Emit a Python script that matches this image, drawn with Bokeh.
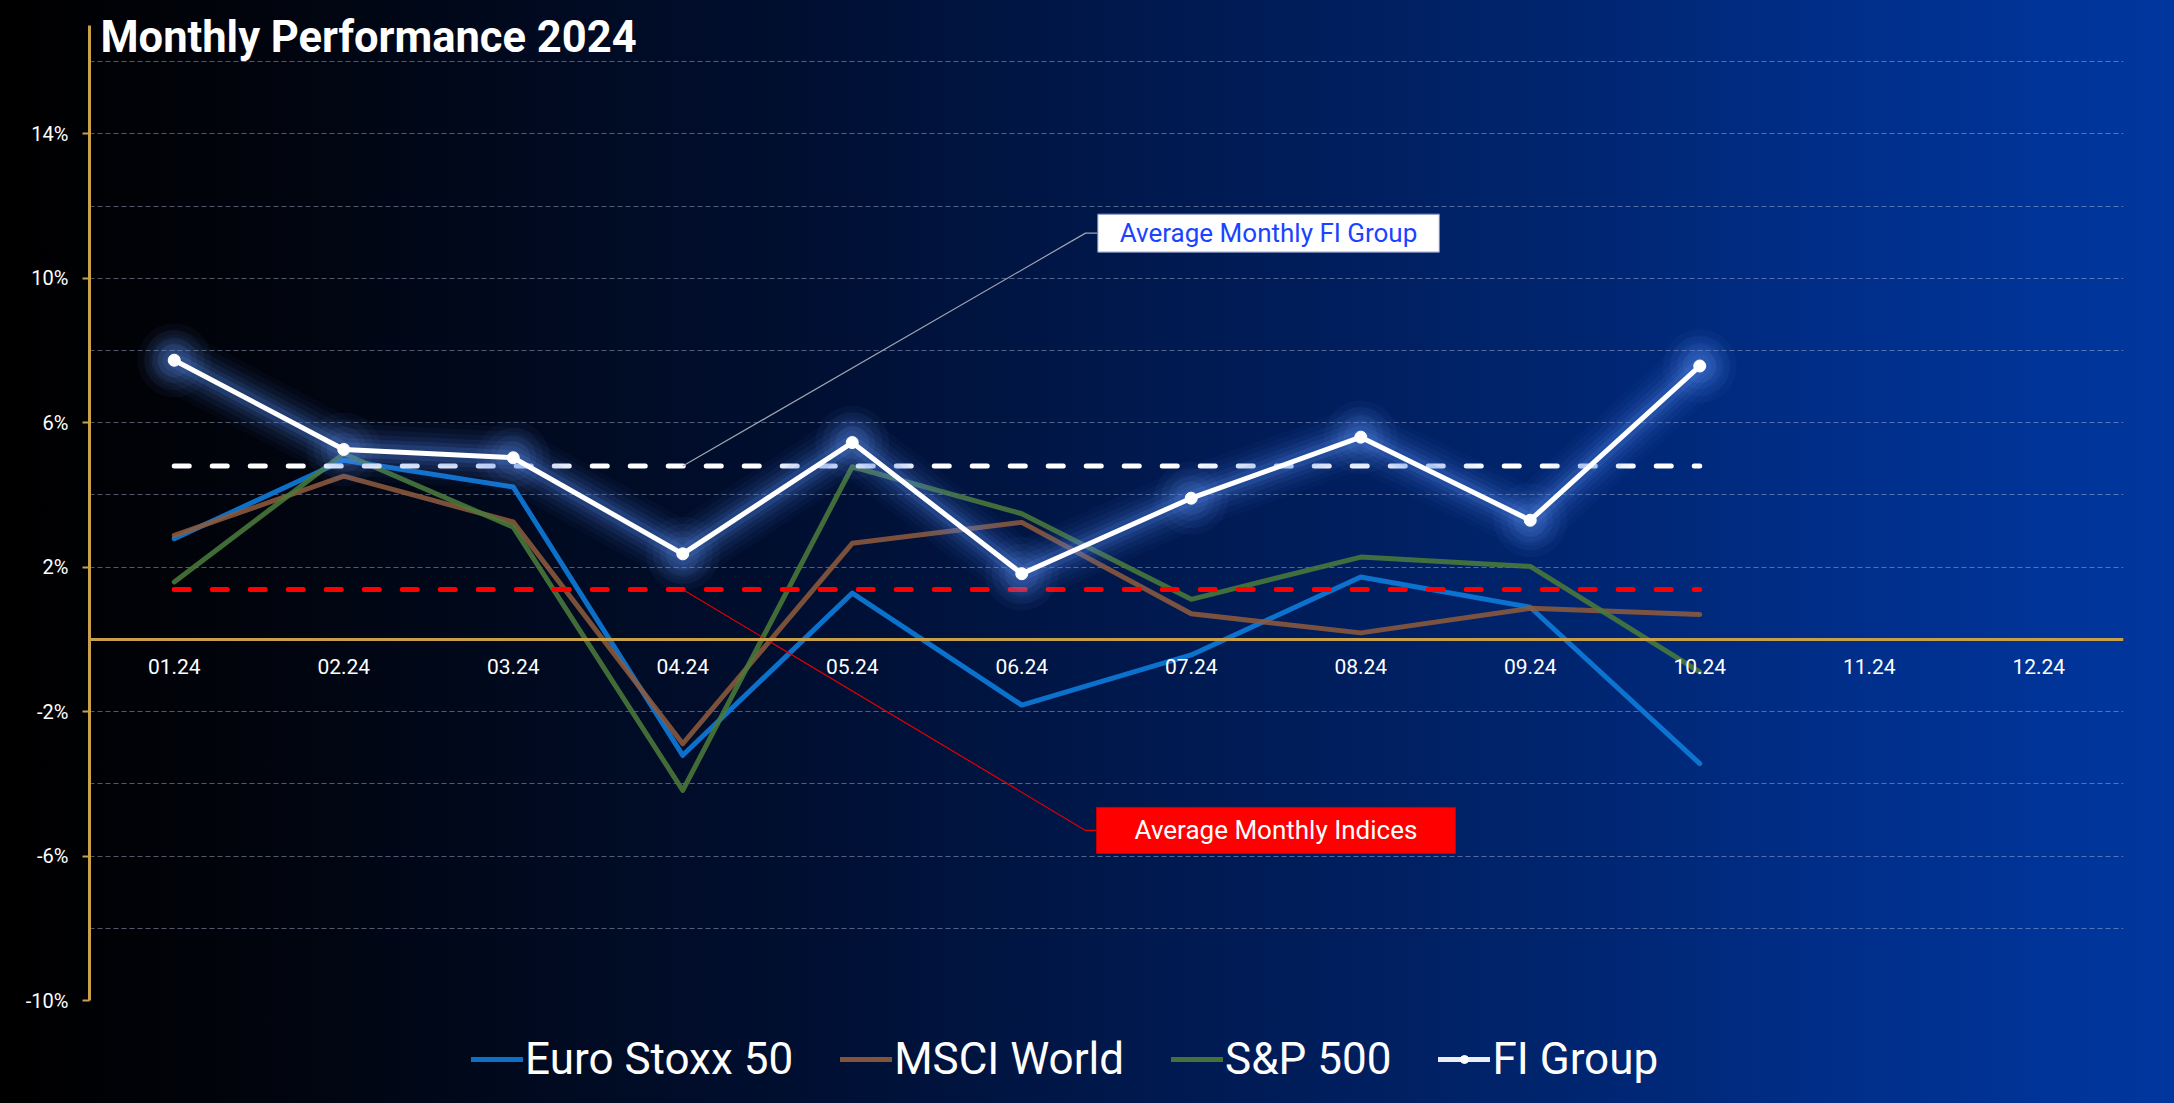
from bokeh.plotting import figure
from bokeh.layouts import column
from bokeh.models import (FactorRange, Range1d, FixedTicker, PrintfTickFormatter,
                          Legend, LegendItem, Label)
from bokeh.embed import file_html
from bokeh.resources import INLINE

# ---------------- data ----------------
months = ["01.24", "02.24", "03.24", "04.24", "05.24", "06.24",
          "07.24", "08.24", "09.24", "10.24", "11.24", "12.24"]
data_months = months[:10]
euro_stoxx = [2.79, 4.96, 4.22, -3.21, 1.28, -1.82, -0.43, 1.73, 0.89, -3.44]
msci_world = [2.88, 4.52, 3.25, -2.89, 2.66, 3.24, 0.71, 0.18, 0.86, 0.69]
sp500 = [1.59, 5.14, 3.11, -4.18, 4.78, 3.48, 1.11, 2.28, 2.02, -0.90]
fi_group = [7.73, 5.26, 5.03, 2.37, 5.45, 1.82, 3.91, 5.60, 3.30, 7.57]
avg_fi = 4.80
avg_indices = 1.38
grid_ticks = [-10, -8, -6, -4, -2, 2, 4, 6, 8, 10, 12, 14, 16]
label_ticks = [-10, -6, -2, 2, 6, 10, 14]
series_names = ["Euro Stoxx 50", "MSCI World", "S&P 500", "FI Group"]
series_values = [euro_stoxx, msci_world, sp500, fi_group]
series_colors = ["#0d7ad8", "#8c5a3c", "#4a7a3a", "white"]

FONT = "Roboto"
GOLD = "#c9a04a"
GRADIENT = ("linear-gradient(90deg, #000000 0%, #01040d 12%, #000e2e 35%, "
            "#001a52 55%, #00256f 72%, #002f8c 86%, #00379f 100%)")

Y_MIN, Y_AXIS_TOP = -10, 17
FRAME_H = 1000
PX_PER_UNIT = 975 / (Y_AXIS_TOP - Y_MIN)
y_top = Y_MIN + FRAME_H / PX_PER_UNIT

p = figure(frame_width=2034, frame_height=FRAME_H,
           x_range=FactorRange(factors=months), y_range=Range1d(Y_MIN, y_top),
           output_backend="svg", toolbar_location=None,
           min_border_left=89, min_border_right=51,
           min_border_top=0, min_border_bottom=15)
p.background_fill_color = None
p.border_fill_color = None
p.outline_line_color = None
p.styles = {"background": GRADIENT}

# axes
p.xaxis.fixed_location = 0
p.xaxis.axis_line_color = GOLD
p.xaxis.axis_line_width = 3
p.xaxis.major_tick_line_color = None
p.xaxis.minor_tick_line_color = None
p.xaxis.major_label_text_color = "white"
p.xaxis.major_label_text_font = FONT
p.xaxis.major_label_text_font_size = "21px"
p.xaxis.major_label_standoff = 14

p.yaxis.bounds = (Y_MIN, Y_AXIS_TOP)
p.yaxis.ticker = FixedTicker(ticks=label_ticks)
p.yaxis.formatter = PrintfTickFormatter(format="%d%%")
p.yaxis.axis_line_color = GOLD
p.yaxis.axis_line_width = 3
p.yaxis.major_tick_line_color = GOLD
p.yaxis.major_tick_line_width = 2
p.yaxis.major_tick_out = 7
p.yaxis.major_tick_in = 0
p.yaxis.minor_tick_line_color = None
p.yaxis.major_label_text_color = "white"
p.yaxis.major_label_text_font = FONT
p.yaxis.major_label_text_font_size = "20px"
p.yaxis.major_label_standoff = 14

p.xgrid.grid_line_color = None
p.ygrid.ticker = FixedTicker(ticks=grid_ticks)
p.ygrid.grid_line_color = "#b8c4e0"
p.ygrid.grid_line_alpha = 0.45
p.ygrid.grid_line_dash = "5 3"
p.ygrid.grid_line_width = 1

# index lines
p.line(data_months, euro_stoxx, line_width=5, color=series_colors[0], alpha=0.92,
       line_join="round", line_cap="round")
p.line(data_months, msci_world, line_width=5, color=series_colors[1], alpha=0.88,
       line_join="round", line_cap="round")
p.line(data_months, sp500, line_width=5, color=series_colors[2], alpha=0.88,
       line_join="round", line_cap="round")

# average lines
p.line([data_months[0], data_months[-1]], [avg_indices, avg_indices], line_width=5,
       color="#ff0000", line_dash="15 23", line_cap="round")
p.line([data_months[0], data_months[-1]], [avg_fi, avg_fi], line_width=5,
       color="white", line_dash="15 23", line_cap="round")

# glow for FI Group
for w, a in [(62, 0.04), (52, 0.05), (42, 0.07), (32, 0.09), (23, 0.12), (15, 0.18)]:
    p.line(data_months, fi_group, line_width=w, color="#4f86e8", alpha=a,
           line_join="round", line_cap="round")
for s, a in [(74, 0.045), (60, 0.055), (46, 0.07), (34, 0.09)]:
    p.scatter(data_months, fi_group, size=s, color="#6a9cff", alpha=a, line_color=None)

p.line(data_months, fi_group, line_width=5, color="white",
       line_join="round", line_cap="round")
p.scatter(data_months, fi_group, size=12, color="white", line_color="white")

# leader lines and labels
i4 = months.index("04.24") + 0.5
bend_x = 5.876
box_x = 5.945
fi_label_y = 11.25
idx_label_y = -5.29
p.line([i4, bend_x, box_x], [avg_fi, fi_label_y, fi_label_y], line_width=1.2, color="#a0a4b0")
p.line([i4, bend_x, box_x], [avg_indices, idx_label_y, idx_label_y], line_width=1.2, color="#e00000")

p.add_layout(Label(x=6.956, y=fi_label_y, text="Average Monthly FI Group",
                   text_align="center", text_baseline="middle",
                   text_font=FONT, text_font_size="26px", text_color="#1a44ff",
                   background_fill_color="white", border_line_color="#7f8fc0",
                   border_line_width=1, padding=(22, 4)))
p.add_layout(Label(x=7.0, y=idx_label_y, text="Average Monthly Indices",
                   text_align="center", text_baseline="middle",
                   text_font=FONT, text_font_size="26px", text_color="white",
                   background_fill_color="#ff0000", border_line_color="#d00000",
                   border_line_width=1, padding=(38, 8)))

# title
p.add_layout(Label(x=0.065, y=16.68, text="Monthly Performance 2024",
                   text_align="left", text_baseline="alphabetic",
                   text_font=FONT, text_font_style="bold", text_font_size="43.5px",
                   text_color="white"))

# ---------------- legend strip ----------------
# the series are drawn here only to give the legend its glyphs; the y range
# keeps them out of view
lf = figure(width=2174, height=88, x_range=FactorRange(factors=months),
            y_range=Range1d(1000, 1001),
            output_backend="svg", toolbar_location=None, min_border=0)
lf.background_fill_color = None
lf.border_fill_color = None
lf.outline_line_color = None
lf.axis.visible = False
lf.grid.visible = False
lf.styles = {"background": GRADIENT}

items = []
for name, vals, col in zip(series_names, series_values, series_colors):
    rl = lf.line(data_months, vals, line_width=5, color=col, alpha=0.92, line_cap="round")
    rens = [rl]
    if name == "FI Group":
        rens.append(lf.scatter(data_months, vals, size=12, color=col, line_color=col))
    items.append(LegendItem(label=name, renderers=rens))

legend = Legend(items=items, orientation="horizontal", location=(382, 18))
legend.background_fill_color = None
legend.background_fill_alpha = 0
legend.border_line_color = None
legend.label_text_color = "white"
legend.label_text_font = FONT
legend.label_text_font_size = "44px"
legend.glyph_width = 52
legend.label_standoff = 2
legend.spacing = 47
legend.margin = 0
legend.padding = 0
lf.add_layout(legend)

layout = column(p, lf, spacing=0)
open("out.html", "w").write(file_html(layout, INLINE))
